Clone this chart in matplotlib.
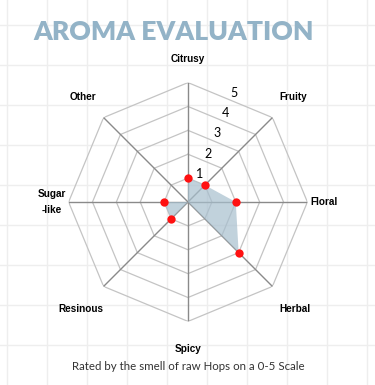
import numpy as np
import matplotlib
matplotlib.use("Agg")
import matplotlib.pyplot as plt

# data
categories = ["Citrusy", "Fruity", "Floral", "Herbal", "Spicy", "Resinous", "Sugar\n-like", "Other"]
scores = [1, 1, 2, 3, 0, 1, 1, 0]
scale_ticks = [1, 2, 3, 4, 5]
label_radius = [5.97, 6.22, 5.70, 6.31, 6.16, 6.33, 5.69, 6.23]

title = "AROMA EVALUATION"
subtitle = "Rated by the smell of raw Hops on a 0-5 Scale"

W, H = 375, 385
fig = plt.figure(figsize=(W / 100, H / 100), dpi=100)

# spreadsheet-like background grid
bg = fig.add_axes([0, 0, 1, 1])
bg.set_xlim(0, W)
bg.set_ylim(H, 0)
bg.axis("off")
for x in range(7, W, 40):
    bg.axvline(x, color="#eeeeee", lw=1, zorder=0)
for y in range(25, H, 40):
    bg.axhline(y, color="#eeeeee", lw=1, zorder=0)

bg.text(33, 32, title, ha="left", va="center", fontsize=19.1, fontweight="heavy",
        family="Lato", color="#93b3c7")
bg.text(188, 367, subtitle, ha="center", va="center", fontsize=8.3,
        family="Lato", color="#333333")

# radar
cx, cy, R = 188, 202, 119.4
ax = fig.add_axes([(cx - R) / W, (H - cy - R) / H, 2 * R / W, 2 * R / H], projection="polar")
ax.set_facecolor("none")
ax.set_theta_zero_location("N")
ax.set_theta_direction(-1)
ax.set_ylim(0, 5)
ax.grid(False)
ax.spines["polar"].set_visible(False)
ax.set_xticks([])
ax.set_yticks([])

n = len(categories)
angles = np.linspace(0, 2 * np.pi, n, endpoint=False)
closed = np.append(angles, angles[0])

for v in scale_ticks:
    ax.plot(closed, [v] * (n + 1), color="#c4c4c4", lw=0.9, zorder=1)
for a in angles:
    ax.plot([a, a], [0, 5], color="#8a8a8a", lw=1.0, zorder=1)

vals = np.array(scores + scores[:1], dtype=float)
ax.fill(closed, vals, color="#a7bfce", alpha=0.7, lw=0, zorder=2)
pts = np.ma.masked_equal(np.array(scores, dtype=float), 0)
ax.plot(angles, pts, "o", color="#ff1111", ms=6, mec="none", zorder=3, clip_on=False)

for v in scale_ticks:
    ax.text(np.deg2rad(23), 0.36 + 0.92 * v, str(v), ha="center", va="center",
            fontsize=9, family="Lato", color="black")

for a, lab, r in zip(angles, categories, label_radius):
    ax.text(a, r, lab, ha="center", va="center", fontsize=7.2, fontweight="bold",
            family="Liberation Sans", color="black", linespacing=1.8)

fig.savefig("out.png", dpi=100)
